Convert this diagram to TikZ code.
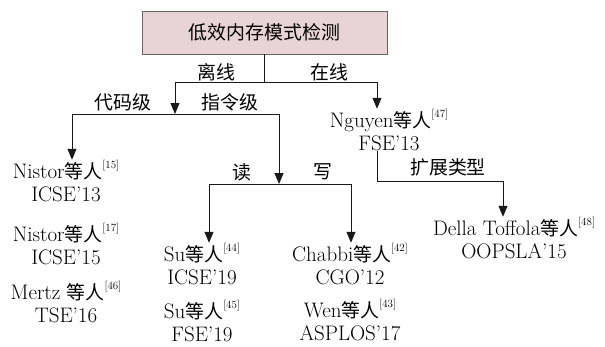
\documentclass[tikz,border=0pt]{standalone}
\usepackage{fontspec}
\newfontfamily\cjk[Scale=0.9]{Noto Sans CJK SC}
\usetikzlibrary{arrows.meta}
\definecolor{pinkc}{RGB}{232,211,214}
\newcommand\rf[1]{\raisebox{10.5pt}{\fontsize{11}{11}\selectfont[#1]}}
\newcommand\dr{{\cjk 等人}}
\begin{document}
\begin{tikzpicture}[x=1pt,y=-1pt,
  every node/.style={inner sep=0pt,font=\fontsize{21}{23}\selectfont},
  ref/.style={align=center},
  lab/.style={font=\fontsize{21}{23}\selectfont\cjk},
  arr/.style={-{Triangle[length=11pt,width=9pt]}},
  ln/.style={draw=black!90,line width=0.8pt}]
\useasboundingbox (0,0) rectangle (605,346);

\node[draw=black!60,line width=0.8pt,fill=pinkc,minimum width=245pt,minimum height=43pt,lab] (top) at (264.5,32.5) {低效内存模式检测};

\node[ref] (nguyen) at (389,130) {Nguyen\dr\rf{47}\\FSE'13};
\node[ref] (della) at (514,238) {Della Toffola\dr\rf{48}\\OOPSLA'15};
\node[ref] (nis15) at (66,181) {Nistor\dr\rf{15}\\ICSE'13};
\node[ref] (nis17) at (66,244) {Nistor\dr\rf{17}\\ICSE'15};
\node[ref] (mertz) at (66,302) {Mertz \dr\rf{46}\\TSE'16};
\node[ref] (su44) at (202,264) {Su\dr\rf{44}\\ICSE'19};
\node[ref] (su45) at (202,321) {Su\dr\rf{45}\\FSE'19};
\node[ref] (chabbi) at (350,264) {Chabbi\dr\rf{42}\\CGO'12};
\node[ref] (wen) at (350,320) {Wen\dr\rf{43}\\ASPLOS'17};

\node[lab] (l1) at (216,72) {离线};
\node[lab] (l2) at (329,72) {在线};
\node[lab] (l3) at (123,102) {代码级};
\node[lab] (l4) at (230,102) {指令级};
\node[lab] (l5) at (242,172) {读};
\node[lab] (l6) at (323,172) {写};
\node[lab] (l7) at (448,167) {扩展类型};

\coordinate (j1) at (top.south |- 0,82);
\coordinate (jl) at (175,114);
\coordinate (xon) at (377,82);
\coordinate (cL) at (72,114);
\coordinate (cR) at (279,114);
\coordinate (jr) at (279,184);
\coordinate (rL) at (209,184);
\coordinate (rR) at (351,184);
\coordinate (ext) at (503,181);

\draw[ln] (top.south) -- (j1);
\draw[ln,arr] (j1) -| (jl);
\draw[ln,arr] (j1) -- (xon) -- (xon |- nguyen.north);
\draw[ln] (cL) -- (cR);
\draw[ln,arr] (cL) -- (cL |- nis15.north);
\draw[ln,arr] (cR) -- (jr);
\draw[ln] (rL) -- (rR);
\draw[ln,arr] (rL) -- (rL |- su44.north);
\draw[ln,arr] (rR) -- (rR |- chabbi.north);
\draw[ln,arr] (xon |- nguyen.south) -- (xon |- ext) -- (ext) -- (ext |- della.north);
\end{tikzpicture}
\end{document}
